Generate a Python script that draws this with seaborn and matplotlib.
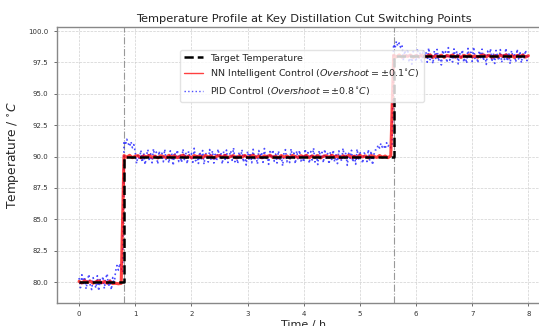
"""
Temperature profile at key distillation cut switching points
Target vs NN intelligent control vs PID control
"""

import numpy as np
import pandas as pd
import matplotlib
matplotlib.use("Agg")
import matplotlib.pyplot as plt
import seaborn as sns

# switching points (h) and target temperatures per cut (deg C)
switch_times = [0.8, 5.6]
cut_targets = [80.0, 90.0, 98.0]
t_end = 8.0

# target step profile
target_time = [0.0, 0.8, 0.8, 5.6, 5.6, 8.0]
target_temp = [80.0, 80.0, 90.0, 90.0, 98.0, 98.0]

pid_dev_cut1 = [
    0.32, -0.45, 0.58, -0.12, 0.40, -0.55, 0.10, 0.62, -0.30, -0.60, 0.35, -0.05, -0.48,
    0.50, -0.70, 0.20, -0.25, 0.45, -0.52, 0.28, 0.66, -0.38, 0.15, -0.62, 0.36, -0.18,
    0.85, 1.32, 0.95, 1.48, 1.10, 0.78,
]
pid_dev_cut2 = [
    1.25, 0.92, 1.38, 1.05, 0.80, 1.18, 0.70, 0.95,
    0.38, -0.55, 0.15, -0.28, 0.50, -0.46, 0.30, -0.64, 0.08, 0.55, -0.35, 0.22, -0.50, 0.62, -0.14, 0.36, -0.60, 0.44, -0.20, 0.27,
    -0.42, 0.58, -0.30, 0.12, -0.52, 0.46, 0.20, -0.72, 0.34, -0.08, 0.52, -0.40, 0.16, -0.48, 0.60, -0.24, 0.32, -0.58, 0.42, -0.12,
    0.25, -0.46, 0.66, -0.34, 0.06, -0.55, 0.38, -0.18, 0.48, -0.62, 0.28, 0.12, -0.44, 0.56, -0.26, 0.45, -0.52, 0.18, -0.36, 0.60,
    -0.10, 0.34, -0.60, 0.40, -0.22, 0.52, -0.48, 0.04, 0.46, -0.30, 0.70, -0.42, 0.16, -0.56, 0.36, -0.14, 0.55, -0.45, 0.22, -0.68,
    0.42, -0.20, 0.30, -0.50, 0.58, -0.32, 0.10, -0.60, 0.48, -0.06, 0.35, -0.46, 0.64, -0.26, 0.14, -0.62, 0.40, -0.16, 0.54, -0.38,
    0.20, -0.52, 0.45, -0.28, 0.08, -0.75, 0.36, 0.55, -0.42, 0.12, -0.48, 0.62, -0.18, 0.28, -0.58, 0.44, -0.24, 0.50, -0.36, 0.05,
    -0.46, 0.60, -0.12, 0.32, -0.54, 0.40, -0.28, 0.68, -0.44, 0.18, -0.64, 0.48, -0.04, 0.34, -0.50, 0.58, -0.22, 0.24, -0.60, 0.38,
    -0.30, 0.52, -0.42, 0.14, -0.56, 0.46, 0.02, -0.38, 0.66, -0.20, 0.32, -0.70, 0.26, -0.14,
    0.50, -0.44, 0.20, -0.62, 0.60, -0.26, 0.40, -0.08, -0.54, 0.30, 0.10, -0.40, 0.56, -0.32, 0.44, -0.66, 0.16, 0.52,
    0.55, 0.92, 0.68, 1.05, 0.74, 0.88, 0.60, 1.10, 0.82, 0.95, 0.70, 1.02,
]
pid_dev_cut3 = [
    0.95, 0.62, 1.18, 0.80, 1.05, 0.70, 0.88,
    -0.36, 0.46, -0.14, 0.56, -0.50, 0.24, -0.64, 0.38, 0.06, -0.44, 0.60, -0.22, 0.30, -0.56, 0.50, -0.10, 0.34, -0.48, 0.66, -0.28,
    0.12, -0.60, 0.42, -0.18, 0.54, -0.40, 0.20, -0.70, 0.48, -0.04, 0.36, -0.52, 0.68, -0.32, 0.16, -0.46, 0.58, -0.24, 0.40, -0.62,
    0.28, -0.10, 0.50, -0.48, 0.04, -0.58, 0.62, -0.20, 0.32, -0.42, 0.74, -0.30, 0.14, -0.54, 0.44, -0.12, 0.56, -0.36, 0.22, -0.66,
    0.40, -0.16, 0.60, -0.44, 0.26, -0.58, 0.46, 0.02, -0.34, 0.52, -0.50, 0.18, -0.26, 0.64, -0.40, 0.30, -0.62, 0.44, -0.06, 0.24,
    -0.48, 0.56, -0.22, 0.38, -0.54, 0.28, -0.14, 0.48, -0.36, 0.10,
]

# NN deviation from target, sampled every 0.05 h
nn_dev_cut1 = [0.05, -0.08, 0.10, -0.03, 0.07, -0.10, 0.02, 0.09, -0.06, 0.04, -0.09, 0.08,
               -0.12, -0.10, -0.14, -0.11]
nn_dev_cut2 = [
    0.08, -0.05, 0.10, -0.09, 0.03, 0.07, -0.10, 0.05, -0.02, 0.09, -0.07, 0.04, -0.11, 0.06, 0.01, -0.08,
    0.10, -0.04, 0.07, -0.09, 0.02, 0.11, -0.06, 0.04, -0.10, 0.08, -0.01, 0.05, -0.08, 0.09, -0.03, 0.06,
    -0.10, 0.03, 0.08, -0.05, 0.10, -0.08, 0.01, 0.07, -0.11, 0.05, -0.04, 0.09, -0.07, 0.02, 0.10, -0.06,
    0.04, -0.09, 0.06, -0.02, 0.11, -0.07, 0.03, -0.10, 0.08, -0.04, 0.05, -0.08, 0.09, 0.00, -0.06, 0.07,
    -0.03, 0.10, -0.09, 0.05, -0.05, 0.08, -0.11, 0.02, 0.07, -0.07, 0.10, -0.02, 0.04, -0.10, 0.06, -0.04,
    0.09, -0.06, 0.03, -0.08, 0.10, -0.03, 0.05, -0.10, 0.07, 0.01, -0.07, 0.08, -0.05, 0.04, -0.09, 0.06,
]
nn_dev_cut3 = [
    0.07, -0.06, 0.10, -0.08, 0.04, -0.02, 0.09, -0.10, 0.05, -0.04, 0.08, -0.07, 0.02, 0.11, -0.09, 0.03,
    -0.05, 0.08, -0.10, 0.06, -0.01, 0.09, -0.07, 0.04, -0.11, 0.07, -0.03, 0.10, -0.06, 0.02, -0.08, 0.05,
    0.10, -0.04, 0.07, -0.09, 0.03, -0.06, 0.08, -0.02, 0.11, -0.08, 0.05, -0.10, 0.06, -0.03, 0.09, -0.07,
    0.04,
]


def build_series(devs, step):
    """Stack the per-cut deviations onto the cut targets"""
    bounds = [0.0] + switch_times + [t_end + step]
    times, temps = [], []
    for i, dev in enumerate(devs):
        t = np.arange(len(dev)) * step + bounds[i]
        times.append(t)
        temps.append(cut_targets[i] + np.array(dev))
    return np.concatenate(times), np.concatenate(temps)


pid_time, pid_temp = build_series([pid_dev_cut1, pid_dev_cut2, pid_dev_cut3], 0.025)
nn_time, nn_temp = build_series([nn_dev_cut1, nn_dev_cut2, nn_dev_cut3], 0.05)

lbl_target = 'Target Temperature'
lbl_nn = r'NN Intelligent Control ($Overshoot = \pm0.1^{\circ}C$)'
lbl_pid = r'PID Control ($Overshoot = \pm0.8^{\circ}C$)'

df_target = pd.DataFrame({'time': target_time, 'temp': target_temp})
df_nn = pd.DataFrame({'time': nn_time, 'temp': nn_temp})
df_pid = pd.DataFrame({'time': pid_time, 'temp': pid_temp})

sns.set_style("ticks")
plt.rcParams['font.family'] = ['DejaVu Sans']

fig, ax = plt.subplots(figsize=(5.39, 3.26), dpi=100)
fig.subplots_adjust(left=0.105, right=1.022, top=0.917, bottom=0.0706)

sns.lineplot(data=df_target, x='time', y='temp', ax=ax, color='black',
             linestyle='--', linewidth=1.8, label=lbl_target, zorder=4,
             sort=False, estimator=None)
sns.lineplot(data=df_nn, x='time', y='temp', ax=ax, color='red',
             linewidth=2.2, alpha=0.75, label=lbl_nn, zorder=3,
             sort=False, estimator=None)
sns.lineplot(data=df_pid, x='time', y='temp', ax=ax, color='blue',
             linestyle=':', linewidth=1.2, alpha=0.7, label=lbl_pid, zorder=2,
             sort=False, estimator=None)

for ts in switch_times:
    ax.axvline(ts, color='gray', linestyle='-.', linewidth=0.8, alpha=0.8, zorder=1)

ax.set_xlim(-0.4, 8.4)
ax.set_ylim(78.33, 100.32)
ax.set_xticks(range(0, 9))
ax.set_yticks([80.0, 82.5, 85.0, 87.5, 90.0, 92.5, 95.0, 97.5, 100.0])
ax.yaxis.set_major_formatter(matplotlib.ticker.FormatStrFormatter('%.1f'))
ax.grid(True, linestyle='--', linewidth=0.5, color='#cccccc', alpha=0.9)

ax.tick_params(labelsize=5, length=2.5, width=0.6, colors='#555555', labelcolor='#333333')
for sp in ax.spines.values():
    sp.set_color('#888888')
    sp.set_linewidth(1.0)

ax.set_title('Temperature Profile at Key Distillation Cut Switching Points',
             fontsize=8.2, pad=3.5, color='#222222')
ax.set_xlabel('Time / h', fontsize=8, labelpad=2)
ax.set_ylabel(r'Temperature / $^{\circ}C$', fontsize=8.8)
ax.yaxis.set_label_coords(-0.071, 0.535)

leg = ax.legend(loc='upper left', bbox_to_anchor=(0.25, 0.917), borderaxespad=0,
                fontsize=6.8, framealpha=0.8, edgecolor='#dddddd', fancybox=True)
# thinner handles in the legend than the plotted lines
leg.get_lines()[1].set_linewidth(1.0)
leg.get_lines()[2].set_linewidth(1.0)

plt.savefig('out.png', dpi=100)
plt.close()
